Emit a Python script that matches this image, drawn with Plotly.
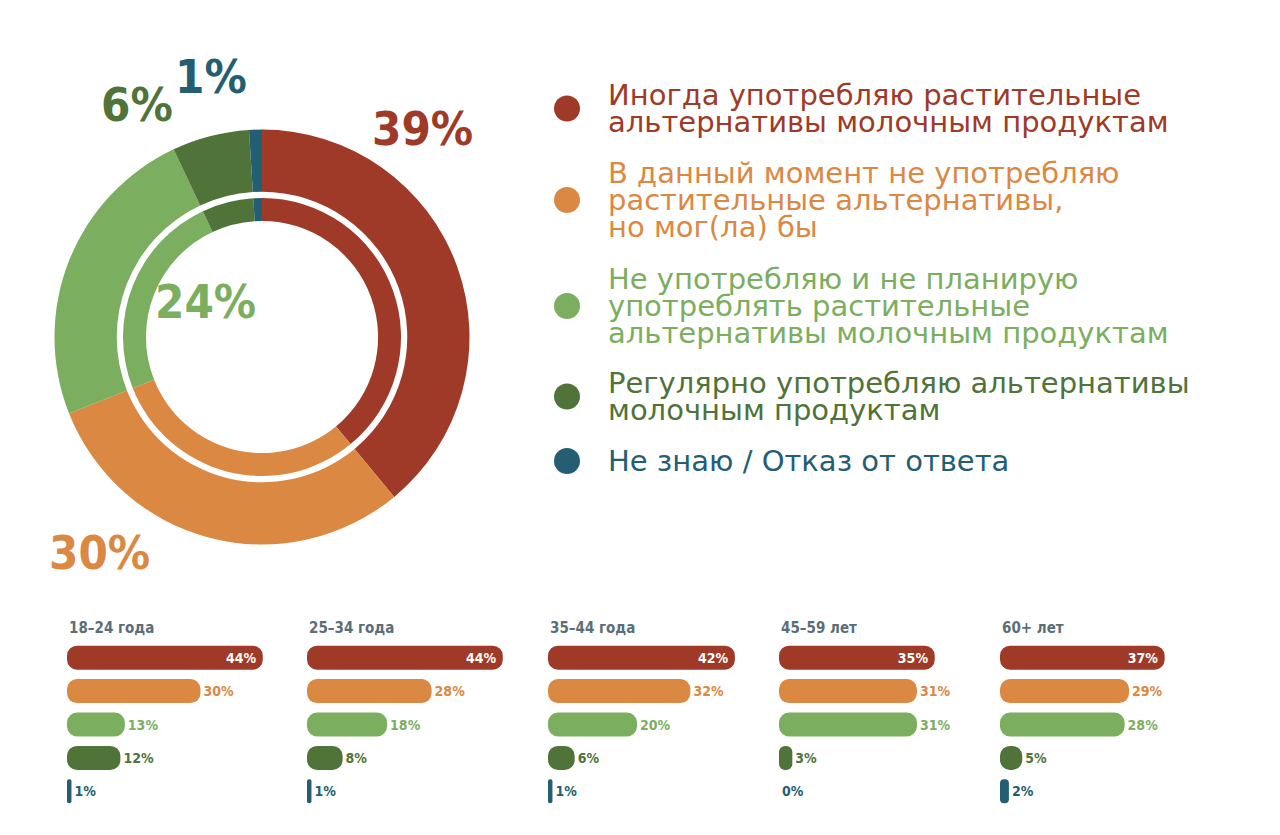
import plotly.graph_objects as go

# page body has an 8px margin, so the figure is drawn 8px in from the window edge
PAGE_OFF = 8
W, H = 1280 - 2 * PAGE_OFF, 835 - 2 * PAGE_OFF

# ---- data ----
answers = [
    "Иногда употребляю растительные\nальтернативы молочным продуктам",
    "В данный момент не употребляю\nрастительные альтернативы,\nно мог(ла) бы",
    "Не употребляю и не планирую\nупотреблять растительные\nальтернативы молочным продуктам",
    "Регулярно употребляю альтернативы\nмолочным продуктам",
    "Не знаю / Отказ от ответа",
]
colors = ["#9E3A27", "#DB8843", "#7BAE5F", "#4F7339", "#235E73"]
total_share = [39, 30, 24, 6, 1]

age_groups = ["18–24 года", "25–34 года", "35–44 года", "45–59 лет", "60+ лет"]
age_share = [
    [44, 30, 13, 12, 1],
    [44, 28, 18, 8, 1],
    [42, 32, 20, 6, 1],
    [35, 31, 31, 3, 0],
    [37, 29, 28, 5, 2],
]

COND = "DejaVu Sans Condensed"
TITLE_GRAY = "#5B6E78"


def px(x):
    return (x - PAGE_OFF) / W


def py(y):
    return 1 - (y - PAGE_OFF) / H


names = [a.replace("\n", " ") for a in answers]

fig = go.Figure()

# ---- donut: outer ring + thin inner ring ----
CX, CY = 262, 337
for r, hole in [(207.5, 0.70), (139, 0.835)]:
    fig.add_trace(go.Pie(
        values=total_share,
        labels=names,
        hole=hole,
        sort=False,
        direction="clockwise",
        rotation=0,
        marker=dict(colors=colors, line=dict(width=0)),
        textinfo="none",
        hoverinfo="label+percent",
        showlegend=False,
        domain=dict(x=[px(CX - r), px(CX + r)], y=[py(CY + r), py(CY - r)]),
    ))

# big percentage labels around the donut
pct_pos = [(422, 128), (99, 552), (205, 301), (137, 104), (211, 76)]
for v, c, (x, y) in zip(total_share, colors, pct_pos):
    fig.add_annotation(
        x=px(x), y=py(y), xref="paper", yref="paper", text=f"{v}%",
        showarrow=False, xanchor="center", yanchor="middle",
        font=dict(family=COND, size=47, color=c, weight="bold"),
    )

# ---- legend (right side) ----
item_top = [95, 173, 279, 383, 461]
LINE_H = 27
for ans, c, y0 in zip(answers, colors, item_top):
    lines = ans.split("\n")
    for k, line in enumerate(lines):
        fig.add_annotation(
            x=px(606), y=py(y0 + k * LINE_H), xref="paper", yref="paper",
            text=line, showarrow=False, xanchor="left", yanchor="middle",
            font=dict(family="DejaVu Sans", size=29, color=c),
        )
    cy = y0 + (len(lines) - 1) * LINE_H / 2
    fig.add_shape(
        type="circle", xref="paper", yref="paper",
        xsizemode="pixel", ysizemode="pixel",
        xanchor=px(567), yanchor=py(cy),
        x0=-13, x1=13, y0=-13, y1=13,
        fillcolor=c, line=dict(width=0),
    )

# ---- small bar groups by age ----
# explicit base=0 makes cornerradius round both ends of each bar
group_left = [67, 307, 548, 779, 1000]
PX_PER_PCT = 4.45
XMAX = 46
layout_axes = {}
for i, (grp, vals, left) in enumerate(zip(age_groups, age_share, group_left)):
    sfx = "" if i == 0 else str(i + 1)
    fig.add_trace(go.Bar(
        x=vals, y=names, orientation="h", base=[0] * len(vals),
        xaxis=f"x{sfx}", yaxis=f"y{sfx}",
        marker=dict(color=colors, cornerradius=10, line=dict(width=0)),
        text=[f"{v}%" for v in vals],
        textposition=["inside"] + ["outside"] * (len(vals) - 1),
        insidetextanchor="end",
        constraintext="none",
        textfont=dict(family=COND, size=14, color=["white"] + colors[1:], weight="bold"),
        hovertemplate="%{y}: %{x}%<extra></extra>",
        cliponaxis=False, showlegend=False,
    ))
    layout_axes[f"xaxis{sfx}"] = dict(
        domain=[px(left), px(left + PX_PER_PCT * XMAX)], range=[0, XMAX],
        visible=False, anchor=f"y{sfx}", fixedrange=True,
    )
    layout_axes[f"yaxis{sfx}"] = dict(
        domain=[py(808), py(641)], autorange="reversed", visible=False,
        anchor=f"x{sfx}", categoryorder="array", categoryarray=names, fixedrange=True,
    )
    fig.add_annotation(
        x=0, y=py(628), xref=f"x{sfx} domain", yref="paper", text=grp,
        showarrow=False, xanchor="left", yanchor="middle",
        font=dict(family=COND, size=15, color=TITLE_GRAY, weight="bold"),
    )

fig.update_layout(
    width=W, height=H,
    margin=dict(l=0, r=0, t=0, b=0),
    paper_bgcolor="white", plot_bgcolor="white",
    bargap=0.28,
    **layout_axes,
)

fig.write_html("out.html")
